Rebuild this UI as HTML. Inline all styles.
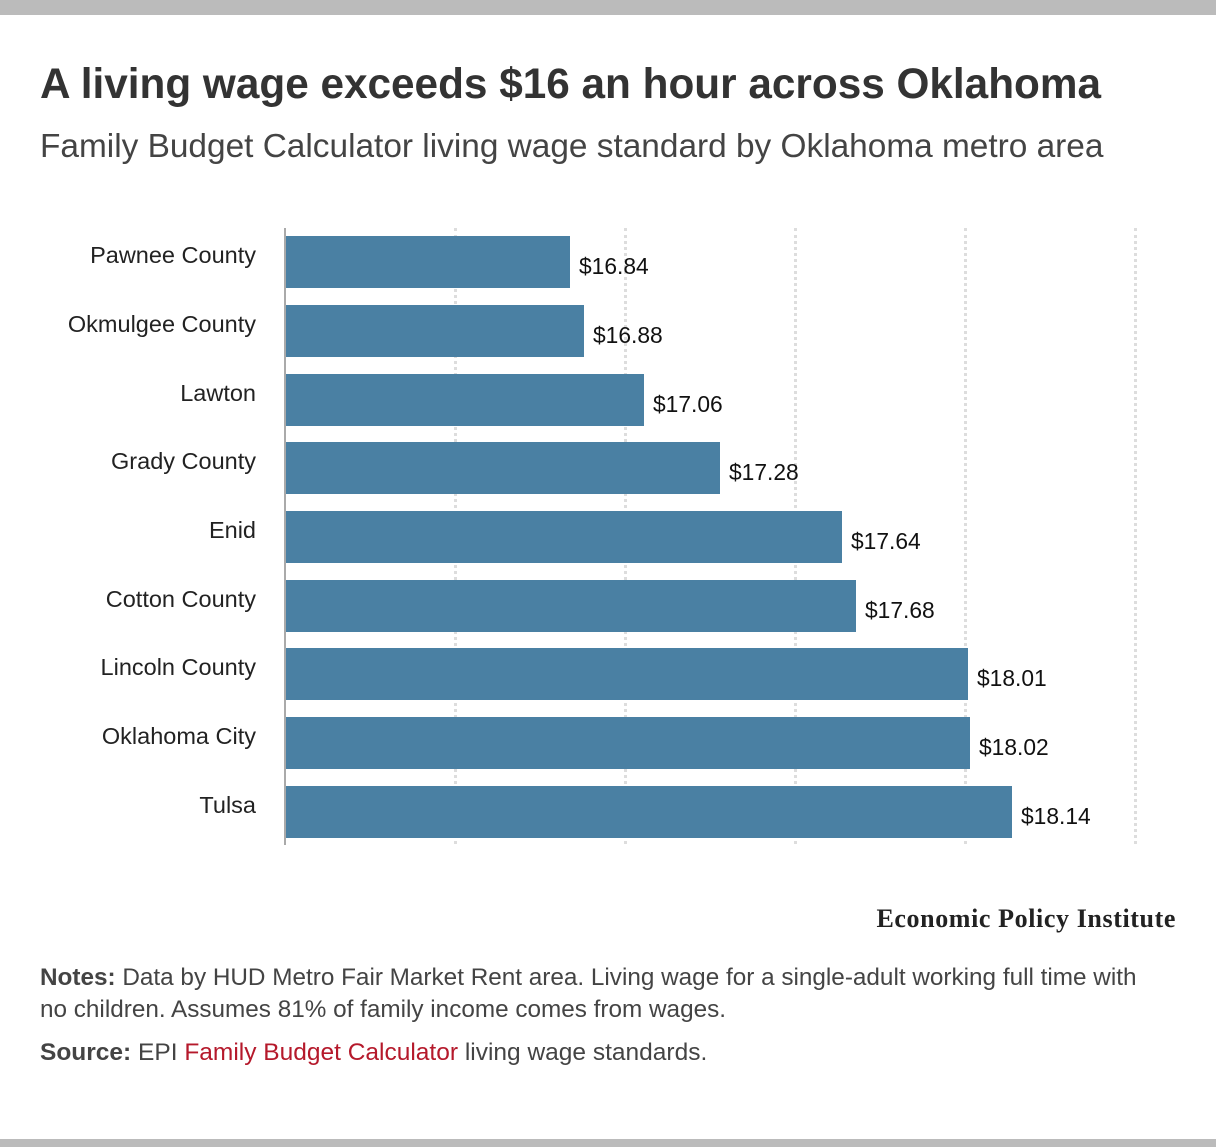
<!DOCTYPE html>
<html><head><meta charset="utf-8"><style>
body{margin:0;width:1216px;height:1147px;background:#fff;font-family:"Liberation Sans",sans-serif;position:relative;overflow:hidden;color:#333}
.bar{position:absolute;left:286px;height:52px;background:#4a80a3}
.lab{position:absolute;right:960px;font-size:23.5px;color:#222;line-height:24px;text-align:right;white-space:nowrap}
.val{position:absolute;font-size:22.8px;color:#111;line-height:24px}
.grid{position:absolute;top:228px;height:616px;width:0;border-left:3px dotted #ddd}
</style></head><body>
<div style="position:absolute;left:0;top:0;width:1216px;height:15px;background:#bbb"></div>
<div style="position:absolute;left:0;top:1139px;width:1216px;height:8px;background:#bbb"></div>
<div style="position:absolute;left:40px;top:60px;font-size:42.3px;font-weight:bold;color:#333;white-space:nowrap">A living wage exceeds $16 an hour across Oklahoma</div>
<div style="position:absolute;left:40px;top:128px;font-size:33.4px;color:#444;white-space:nowrap">Family Budget Calculator living wage standard by Oklahoma metro area</div>
<div class="grid" style="left:454px"></div>
<div class="grid" style="left:624px"></div>
<div class="grid" style="left:794px"></div>
<div class="grid" style="left:964px"></div>
<div class="grid" style="left:1134px"></div>
<div style="position:absolute;left:284px;top:228px;width:2px;height:617px;background:#aaa"></div>

<div class="bar" style="top:236px;width:284px"></div><div class="lab" style="top:243px">Pawnee County</div><div class="val" style="left:579px;top:254px">$16.84</div>
<div class="bar" style="top:305px;width:298px"></div><div class="lab" style="top:312px">Okmulgee County</div><div class="val" style="left:593px;top:323px">$16.88</div>
<div class="bar" style="top:374px;width:358px"></div><div class="lab" style="top:381px">Lawton</div><div class="val" style="left:653px;top:392px">$17.06</div>
<div class="bar" style="top:442px;width:434px"></div><div class="lab" style="top:449px">Grady County</div><div class="val" style="left:729px;top:460px">$17.28</div>
<div class="bar" style="top:511px;width:556px"></div><div class="lab" style="top:518px">Enid</div><div class="val" style="left:851px;top:529px">$17.64</div>
<div class="bar" style="top:580px;width:570px"></div><div class="lab" style="top:587px">Cotton County</div><div class="val" style="left:865px;top:598px">$17.68</div>
<div class="bar" style="top:648px;width:682px"></div><div class="lab" style="top:655px">Lincoln County</div><div class="val" style="left:977px;top:666px">$18.01</div>
<div class="bar" style="top:717px;width:684px"></div><div class="lab" style="top:724px">Oklahoma City</div><div class="val" style="left:979px;top:735px">$18.02</div>
<div class="bar" style="top:786px;width:726px"></div><div class="lab" style="top:793px">Tulsa</div><div class="val" style="left:1021px;top:804px">$18.14</div>

<div style="position:absolute;right:40px;top:904px;font-family:'Liberation Serif',serif;font-weight:bold;font-size:26px;letter-spacing:0.6px;color:#222">Economic Policy Institute</div>
<div style="position:absolute;left:40px;top:962px;font-size:24.3px;line-height:32px;color:#444;white-space:nowrap"><b>Notes:</b> Data by HUD Metro Fair Market Rent area. Living wage for a single-adult working full time with<br>no children. Assumes 81% of family income comes from wages.</div>
<div style="position:absolute;left:40px;top:1038px;font-size:24.5px;line-height:30px;color:#444;white-space:nowrap"><b>Source:</b> EPI <span style="color:#b5192b">Family Budget Calculator</span> living wage standards.</div>
</body></html>
